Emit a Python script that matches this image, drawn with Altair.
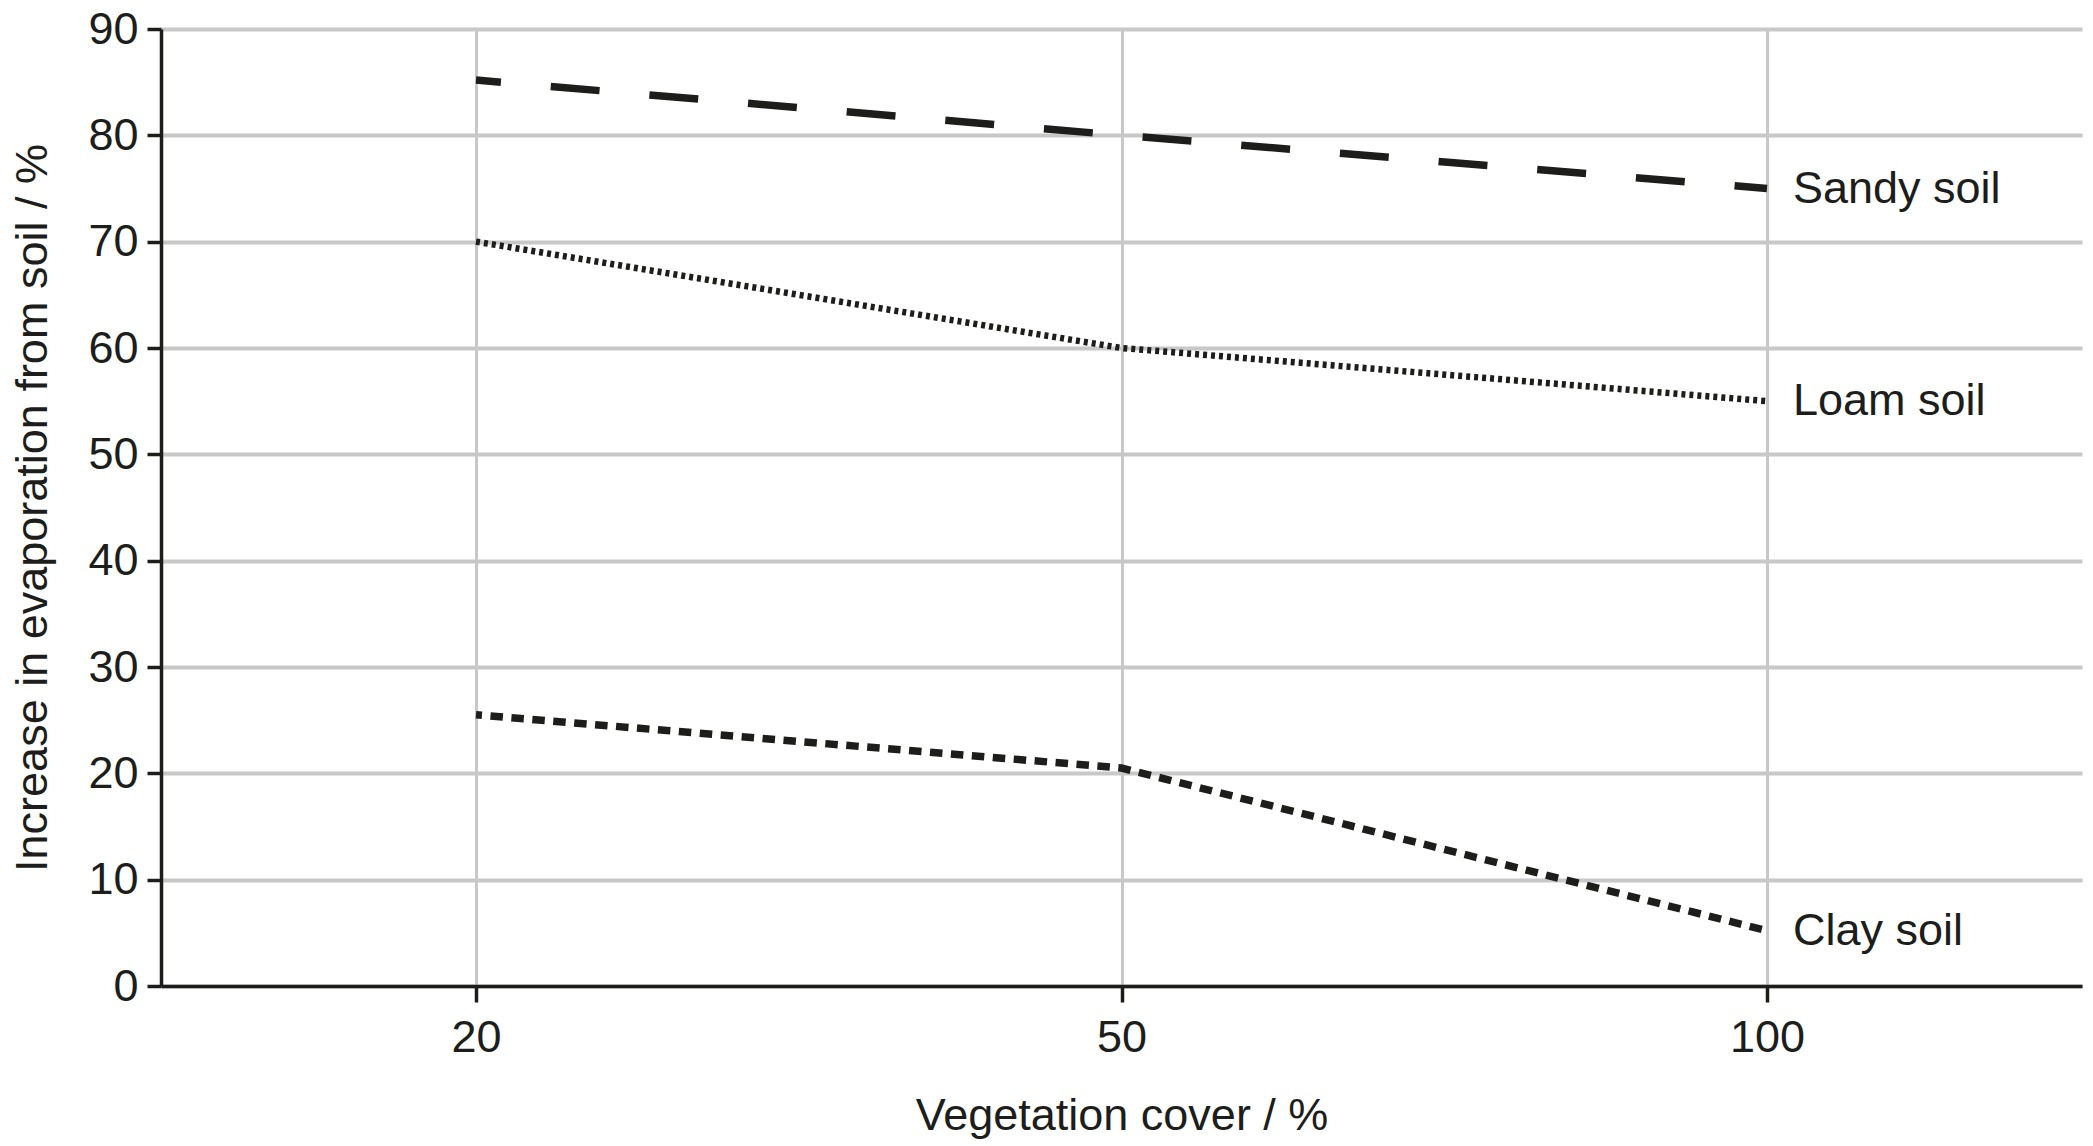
import altair as alt
import pandas as pd

# ---- data ----
cover = ["20", "50", "100"]
sandy = [85.2, 80.0, 75.0]
loam = [70.0, 60.0, 55.0]
clay = [25.5, 20.5, 5.2]
soil_names = ["Sandy soil", "Loam soil", "Clay soil"]
y_ticks = [0, 10, 20, 30, 40, 50, 60, 70, 80, 90]

series = {"Sandy soil": sandy, "Loam soil": loam, "Clay soil": clay}
rows = []
for name in soil_names:
    for c, v in zip(cover, series[name]):
        rows.append({"cover": c, "value": v, "soil": name})
df = pd.DataFrame(rows)
last = df[df["cover"] == cover[-1]]

FONT = "Liberation Sans"
INK = "#1d1d1b"
GRID = "#c8c8c8"

x_enc = alt.X(
    "cover:O",
    sort=cover,
    scale=alt.Scale(type="point", padding=0.488),
    axis=alt.Axis(
        title="Vegetation cover / %",
        labelAngle=0,
        tickSize=16,
        tickWidth=3.5,
        tickColor=INK,
        labelPadding=49,
        labelBaseline="alphabetic",
        labelFontSize=45,
        labelFont=FONT,
        labelColor=INK,
        titleFontSize=45,
        titleFont=FONT,
        titleFontWeight="normal",
        titleColor=INK,
        titleBaseline="alphabetic",
        titleY=143,
        grid=True,
        gridColor=GRID,
        gridWidth=3,
        domainColor=INK,
        domainWidth=3.5,
    ),
)

y_enc = alt.Y(
    "value:Q",
    scale=alt.Scale(domain=[0, 90], nice=False, zero=True),
    axis=alt.Axis(
        values=y_ticks,
        title="Increase in evaporation from soil / %",
        tickSize=14,
        tickWidth=3.5,
        tickColor=INK,
        labelPadding=9,
        labelFontSize=45,
        labelFont=FONT,
        labelColor=INK,
        titleFontSize=45,
        titleFont=FONT,
        titleFontWeight="normal",
        titleColor=INK,
        titleBaseline="alphabetic",
        titleAngle=270,
        titleX=-115,
        grid=True,
        gridColor=GRID,
        gridWidth=4,
        domainColor=INK,
        domainWidth=3.5,
    ),
)

base = alt.Chart(df)

sandy_line = base.transform_filter(alt.datum.soil == "Sandy soil").mark_line(
    color=INK, strokeWidth=7.5, strokeDash=[49, 50], strokeDashOffset=24, strokeCap="butt"
).encode(x=x_enc, y=y_enc)

loam_line = base.transform_filter(alt.datum.soil == "Loam soil").mark_line(
    color=INK, strokeWidth=6.5, strokeDash=[4, 4], strokeCap="butt"
).encode(x=x_enc, y=y_enc)

clay_line = base.transform_filter(alt.datum.soil == "Clay soil").mark_line(
    color=INK, strokeWidth=7.5, strokeDash=[12.5, 8.5], strokeDashOffset=6.5, strokeCap="butt"
).encode(x=x_enc, y=y_enc)

labels = alt.Chart(last).mark_text(
    align="left", baseline="middle", dx=26, fontSize=45, font=FONT, color=INK
).encode(x=alt.X("cover:O", sort=cover), y="value:Q", text="soil:N")

chart = (
    alt.layer(sandy_line, loam_line, clay_line, labels)
    .properties(
        width=1921,
        height=957,
        autosize=alt.AutoSizeParams(type="none"),
        padding={"left": 161, "top": 29, "right": 11, "bottom": 160},
        background="white",
    )
    .configure_view(stroke=None)
)

chart.save("out.html", embed_options={"renderer": "svg", "actions": False})
